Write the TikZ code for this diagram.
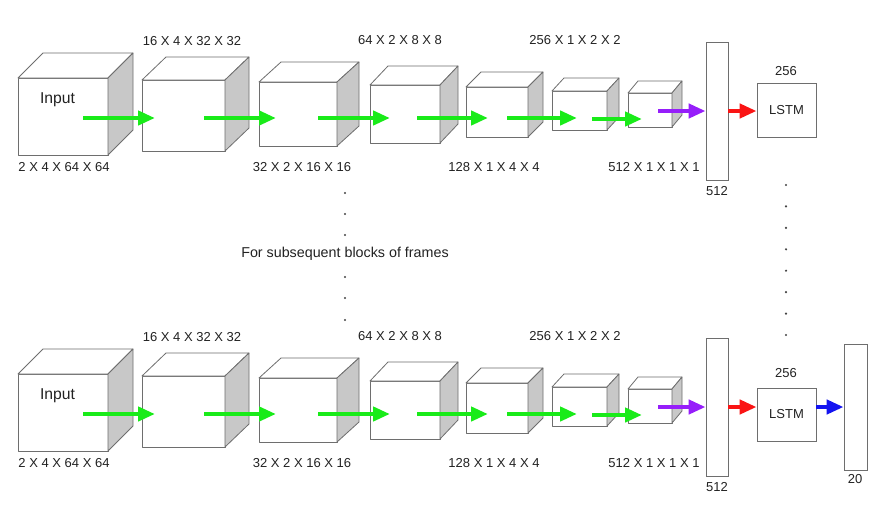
\documentclass[tikz,border=0pt]{standalone}
\usepackage{fontspec}
\setmainfont{Liberation Sans}
\usetikzlibrary{arrows.meta}
\definecolor{edge}{RGB}{110,110,110}
\definecolor{side}{RGB}{200,200,200}
\definecolor{txt}{RGB}{34,34,34}
\definecolor{agreen}{RGB}{25,235,25}
\definecolor{apurple}{RGB}{150,30,250}
\definecolor{ared}{RGB}{250,20,20}
\definecolor{ablue}{RGB}{20,20,240}
\tikzset{
  faceline/.style={draw=edge, line width=0.8pt, line join=round},
  flow/.style={line width=4.5pt, -{Triangle[length=17pt,width=14pt]}},
  lbl/.style={text=txt, inner sep=0pt, font=\fontsize{13}{15}\selectfont},
  boxnode/.style={draw=edge, line width=0.8pt, fill=white, inner sep=0pt},
  dotmark/.style={fill=txt!85, draw=none},
}
\newcommand\drawcube[6]{%
  \filldraw[faceline, fill=white] (#1,#2) rectangle (#3,#4);
  \filldraw[faceline, fill=white] (#1,#2) -- (#1+#5,#2-#6) -- (#3+#5,#2-#6) -- (#3,#2) -- cycle;
  \filldraw[faceline, fill=side] (#3,#2) -- (#3+#5,#2-#6) -- (#3+#5,#4-#6) -- (#3,#4) -- cycle;
}
\newcommand\cnnrow[1]{%
  \drawcube{18}{78}{108}{155}{25}{25}
  \drawcube{142}{80}{225}{151}{24}{23}
  \drawcube{259}{82}{337}{146}{22}{20}
  \drawcube{370}{85}{440}{143}{18}{19}
  \drawcube{466}{87}{528}{137}{15}{15}
  \drawcube{552}{91}{607}{130}{12}{13}
  \drawcube{628}{93}{672}{127}{10}{12}
  \node[lbl, font=\fontsize{15.7}{18}\selectfont, anchor=base] (in#1) at (57.5,103) {Input};
  \node[lbl] (l1#1) at (64,167) {2 X 4 X 64 X 64};
  \node[lbl] (l2#1) at (192,41) {16 X 4 X 32 X 32};
  \node[lbl] (l3#1) at (302,167) {32 X 2 X 16 X 16};
  \node[lbl] (l4#1) at (400,40) {64 X 2 X 8 X 8};
  \node[lbl] (l5#1) at (494,167) {128 X 1 X 4 X 4};
  \node[lbl] (l6#1) at (575,40) {256 X 1 X 2 X 2};
  \node[lbl] (l7#1) at (654,167) {512 X 1 X 1 X 1};
  \node[boxnode, minimum width=22pt, minimum height=138pt] (fc#1) at (717,111) {};
  \node[lbl] (fcl#1) at (717,191) {512};
  \coordinate (g1s#1) at (83,118);  \coordinate (g1e#1) at (155,118);
  \coordinate (g2s#1) at (204,118); \coordinate (g2e#1) at (276,118);
  \coordinate (g3s#1) at (318,118); \coordinate (g3e#1) at (390,118);
  \coordinate (g4s#1) at (417,118); \coordinate (g4e#1) at (488,118);
  \coordinate (g5s#1) at (507,118); \coordinate (g5e#1) at (577,118);
  \coordinate (g6s#1) at (592,119); \coordinate (g6e#1) at (642,119);
  \coordinate (ps#1) at (658,111);
  \draw[flow, agreen] (g1s#1) -- (g1e#1);
  \draw[flow, agreen] (g2s#1) -- (g2e#1);
  \draw[flow, agreen] (g3s#1) -- (g3e#1);
  \draw[flow, agreen] (g4s#1) -- (g4e#1);
  \draw[flow, agreen] (g5s#1) -- (g5e#1);
  \draw[flow, agreen] (g6s#1) -- (g6e#1);
  \draw[flow, apurple] (ps#1) -- (fc#1.west);
}
\begin{document}
\begin{tikzpicture}[x=1pt, y=-1pt]
  \fill[white] (0,0) rectangle (892,515);
  \useasboundingbox (0,0) rectangle (892,515);
  % top row
  \cnnrow{a}
  \node[boxnode, minimum width=59pt, minimum height=54pt] (lstma) at (786.5,110) {};
  \node[lbl] (lstmta) at (lstma.center) {LSTM};
  \node[lbl] (hla) at (786,71) {256};
  \draw[flow, ared] (fca.east) -- (fca.east -| lstma.west);
  % bottom row
  \begin{scope}[yshift=-296pt]
    \cnnrow{b}
  \end{scope}
  \node[boxnode, minimum width=59pt, minimum height=53pt] (lstmb) at (786.5,414.5) {};
  \node[lbl] (lstmtb) at (lstmb.center) {LSTM};
  \node[lbl] (hlb) at (786,373) {256};
  \draw[flow, ared] (fcb.east) -- (fcb.east -| lstmb.west);
  \node[boxnode, minimum width=23pt, minimum height=126pt] (out) at (855.5,407) {};
  \node[lbl] (outl) at (855,479) {20};
  \draw[flow, ablue] (out.west -| lstmb.east) -- (out.west);
  % middle dots and caption
  \foreach \yy [count=\i] in {193,214,235,277,298,320}
    \fill[dotmark] (345,\yy) circle (1.2pt);
  \node[lbl, font=\fontsize{14.3}{17}\selectfont, anchor=base] (cap) at (345,257) {For subsequent blocks of frames};
  % right dots
  \foreach \yy in {185,206.4,227.9,249.3,270.7,292.1,313.6,335}
    \fill[dotmark] (786,\yy) circle (1.2pt);
\end{tikzpicture}
\end{document}
